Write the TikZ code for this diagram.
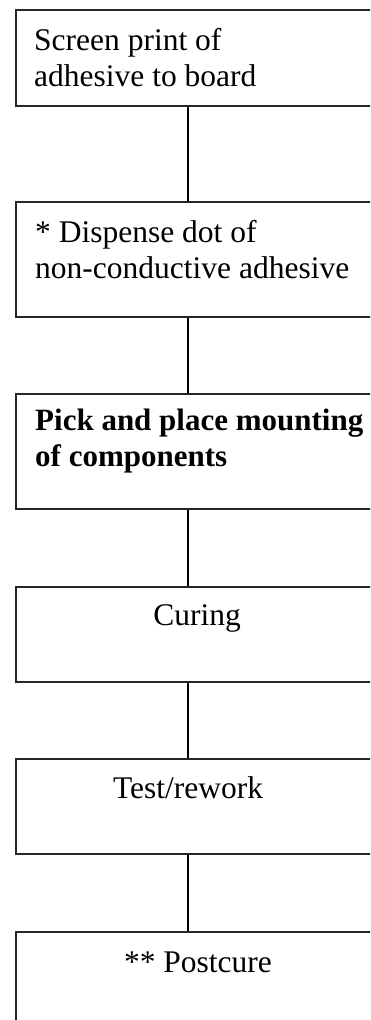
\documentclass[tikz,border=0pt]{standalone}
\usepackage{fontspec}
\setmainfont{Liberation Serif}
\begin{document}
\begin{tikzpicture}[x=1pt,y=1pt,
  stepbox/.style={draw=black!85,line width=1.6pt,rectangle,minimum width=400pt,inner sep=0pt,anchor=north west},
  txt/.style={inner sep=0pt,font=\fontsize{31.5pt}{36pt}\selectfont},
  conn/.style={draw=black,line width=1.6pt}]
\useasboundingbox (0,0) rectangle (370,-1020);
\clip (0,0) rectangle (370,-1020);
\fill[white] (0,0) rectangle (370,-1020);
% boxes
\node[stepbox,minimum height=96pt] (b1) at (15,-9) {};
\node[stepbox,minimum height=115pt] (b2) at (15,-201) {};
\node[stepbox,minimum height=115pt] (b3) at (15,-393) {};
\node[stepbox,minimum height=95pt] (b4) at (15,-586) {};
\node[stepbox,minimum height=95pt] (b5) at (15,-758) {};
\node[stepbox,minimum height=120pt] (b6) at (15,-931) {};
\coordinate (lx) at (188,0);
% texts
\node[txt,anchor=base west] (t1a) at (34,-50) {Screen print of};
\node[txt,anchor=base west] (t1b) at (34,-86) {adhesive to board};
\node[txt,anchor=base west] (t2a) at (35,-242) {* Dispense dot of};
\node[txt,anchor=base west] (t2b) at (35,-278) {non-conductive adhesive};
\node[txt,anchor=base west,font=\fontsize{31pt}{36pt}\selectfont\bfseries] (t3a) at (35,-430) {Pick and place mounting};
\node[txt,anchor=base west,font=\fontsize{31pt}{36pt}\selectfont\bfseries] (t3b) at (35,-466) {of components};
\node[txt,anchor=base] (t4) at (197,-625) {Curing};
\node[txt,anchor=base] (t5) at (188,-798) {Test/rework};
\node[txt,anchor=base] (t6) at (198,-972) {** Postcure};
% connectors
\draw[conn] (b1.south -| lx) -- (b2.north -| lx);
\draw[conn] (b2.south -| lx) -- (b3.north -| lx);
\draw[conn] (b3.south -| lx) -- (b4.north -| lx);
\draw[conn] (b4.south -| lx) -- (b5.north -| lx);
\draw[conn] (b5.south -| lx) -- (b6.north -| lx);
\end{tikzpicture}
\end{document}
